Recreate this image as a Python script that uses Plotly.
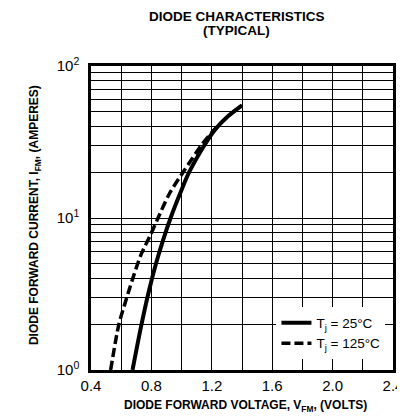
import plotly.graph_objects as go

# Data
v_25 = [0.675, 0.73, 0.78, 0.83, 0.88, 0.93, 0.99, 1.05, 1.15, 1.22, 1.30, 1.40]
i_25 = [1.0, 1.9, 3.2, 5.0, 7.3, 10.2, 14.5, 20.0, 30.0, 38.0, 46.0, 55.0]

v_125 = [0.53, 0.585, 0.635, 0.68, 0.73, 0.79, 0.84, 0.92, 1.01, 1.13, 1.20, 1.30, 1.40]
i_125 = [1.0, 2.0, 2.95, 4.1, 5.7, 7.6, 9.8, 14.5, 20.0, 30.0, 36.5, 46.0, 55.0]

x_ticks = [0.4, 0.8, 1.2, 1.6, 2.0, 2.4]
x_ticktext = ["0.4", "0.8", "1.2", "1.6", "2.0", "2.4"]
y_ticks = [1, 10, 100]
y_ticktext = ["10<sup>0</sup>", "10<sup>1</sup>", "10<sup>2</sup>"]
y_minor = [2, 3, 4, 5, 6, 7, 8, 9, 20, 30, 40, 50, 60, 70, 80, 90]

FONT = "Liberation Sans, Arial, sans-serif"

fig = go.Figure()
fig.add_trace(go.Scatter(
    x=v_25, y=i_25, mode="lines", name="T<sub>j</sub> = 25°C",
    line=dict(color="black", width=4, shape="spline", smoothing=0.8),
))
fig.add_trace(go.Scatter(
    x=v_125, y=i_125, mode="lines", name="T<sub>j</sub> = 125°C",
    line=dict(color="black", width=3.5, dash="9px,4px", shape="spline", smoothing=0.8),
))

fig.update_layout(
    width=397, height=411,
    margin=dict(l=83, r=12, t=58, b=49, autoexpand=False),
    paper_bgcolor="white", plot_bgcolor="white",
    font=dict(family=FONT, color="black"),
    showlegend=True,
    legend=dict(
        x=0.975, y=0.035, xanchor="right", yanchor="bottom",
        bgcolor="white", borderwidth=0, itemwidth=30,
        font=dict(size=13.5, family=FONT, color="black"),
        tracegroupgap=0,
    ),
    annotations=[
        dict(text="<b>DIODE CHARACTERISTICS</b>", xref="paper", yref="paper",
             x=0.483, y=1.163, xanchor="center", yanchor="middle", showarrow=False,
             font=dict(size=13.5, family=FONT, color="black")),
        dict(text="<b>(TYPICAL)</b>", xref="paper", yref="paper",
             x=0.483, y=1.117, xanchor="center", yanchor="middle", showarrow=False,
             font=dict(size=13.5, family=FONT, color="black")),
        dict(text="<b>DIODE FORWARD VOLTAGE, V<sub>FM</sub>, (VOLTS)</b>",
             xref="paper", yref="paper", x=0.51, y=-0.118,
             xanchor="center", yanchor="middle", showarrow=False,
             font=dict(size=12, family=FONT, color="black")),
        dict(text="<b>DIODE FORWARD CURRENT, I<sub>FM</sub>, (AMPERES)</b>",
             xref="paper", yref="paper", x=-0.185, y=0.51, textangle=-90,
             xanchor="center", yanchor="middle", showarrow=False,
             font=dict(size=12, family=FONT, color="black")),
    ],
)

fig.update_xaxes(
    range=[0.4, 2.4], tickvals=x_ticks, ticktext=x_ticktext,
    showgrid=True, gridcolor="black", gridwidth=1,
    minor=dict(dtick=0.2, tick0=0.4, showgrid=True, gridcolor="black", gridwidth=1),
    showline=True, mirror=True, linecolor="black", linewidth=2.5,
    ticks="", tickfont=dict(size=15, family=FONT, color="black"),
    zeroline=False, automargin=False, ticklabeloverflow="allow",
)
fig.update_yaxes(
    type="log", range=[0, 2], tickvals=y_ticks, ticktext=y_ticktext,
    showgrid=True, gridcolor="black", gridwidth=1,
    minor=dict(tickvals=y_minor, showgrid=True, gridcolor="black", gridwidth=1),
    showline=True, mirror=True, linecolor="black", linewidth=2.5,
    ticks="", tickfont=dict(size=15, family=FONT, color="black"),
    zeroline=False, automargin=False, ticklabelstandoff=6,
)

fig.write_html("out.html")
